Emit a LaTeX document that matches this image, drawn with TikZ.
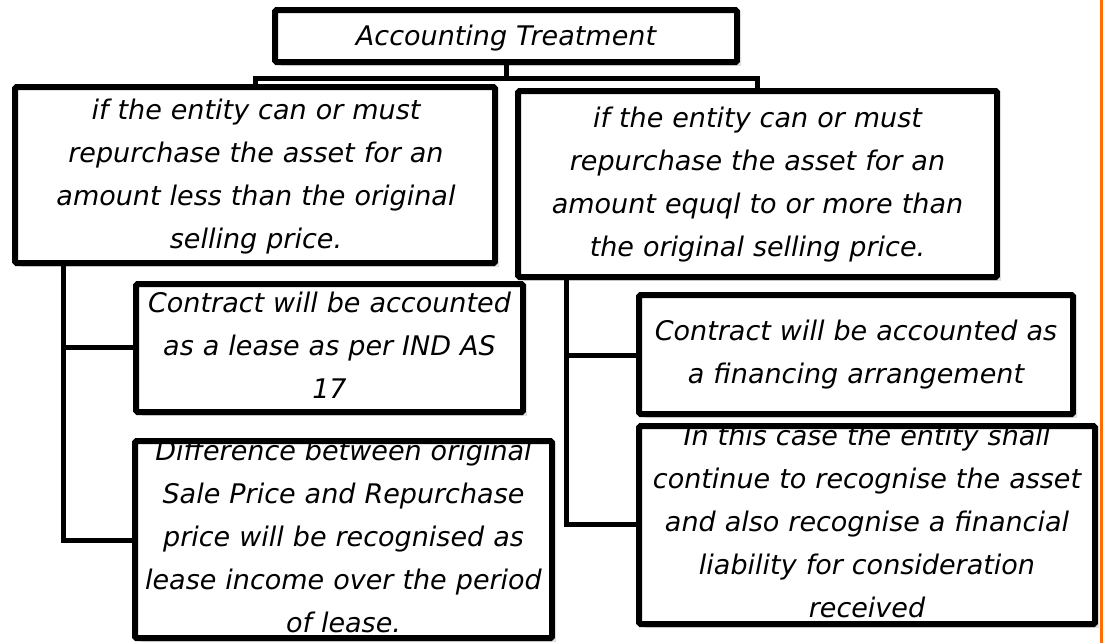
\documentclass[tikz,border=0pt]{standalone}
\usepackage{fontspec}
\setmainfont{DejaVu Sans}
\newcommand{\widespaces}{\spaceskip=0.5em\relax}
\tikzset{
  boxfill/.style={fill=white, draw=none, inner sep=0pt, outer sep=0pt},
  border/.style={draw=black, line width=6pt, rounded corners=1.5pt},
  shade/.style={fill=black!12, draw=none},
  txt/.style={align=center, text width=600pt, inner sep=0pt, anchor=base,
              font=\itshape\fontsize{27}{43}\selectfont\widespaces},
  conn/.style={draw=black, line width=5pt},
  edgeline/.style={draw=orange!85!red, line width=3pt}
}
\begin{document}
\begin{tikzpicture}[x=1pt,y=-1pt]
\useasboundingbox (0,0) rectangle (1103,643);
\fill[white] (0,0) rectangle (1103,643);
\draw[edgeline] (1101.5,0) -- (1101.5,643);

% boxes (fill)
\node[boxfill, minimum width=462pt, minimum height=52pt] (T) at (506,36) {};
\node[boxfill, minimum width=480pt, minimum height=176pt] (L1) at (255,175) {};
\node[boxfill, minimum width=479pt, minimum height=186pt] (R1) at (757.5,184) {};
\node[boxfill, minimum width=387pt, minimum height=128pt] (L2) at (329.5,348) {};
\node[boxfill, minimum width=417pt, minimum height=197pt] (L3) at (343.5,539.5) {};
\node[boxfill, minimum width=434pt, minimum height=119pt] (R2) at (856,354.5) {};
\node[boxfill, minimum width=456pt, minimum height=198pt] (R3) at (867,525) {};

% soft shadows
\begin{scope}[on background layer/.style={}]
\foreach \b in {T,L1,R1,L2,L3,R2,R3}{
  \fill[shade] ([xshift=4pt,yshift=-4pt]\b.north east) rectangle ([xshift=4pt,yshift=-4pt]\b.south east);
  \fill[shade] ([xshift=6pt]\b.south west) rectangle ([xshift=4pt,yshift=-4pt]\b.south east);
}
\end{scope}

% connectors
\coordinate (j) at (506,78);
\draw[conn] (T.south) -- (j) -| (L1.north);
\draw[conn] (j) -| (R1.north);
\coordinate (lt) at (63,263);
\draw[conn] (lt) |- (L2.west |- 0,347);
\draw[conn] (lt) |- (L3.west |- 0,540);
\coordinate (rt) at (566,277);
\draw[conn] (rt) |- (R2.west |- 0,355);
\draw[conn] (rt) |- (R3.west |- 0,524);

% texts
\node[txt] (tT) at (506,45) {Accounting Treatment};
\node[txt] (tL1) at (256,119) {if the entity can or must\\repurchase the asset for an\\amount less than the original\\selling price.};
\node[txt] (tR1) at (757.5,127) {if the entity can or must\\repurchase the asset for an\\amount equql to or more than\\the original selling price.};
\node[txt] (tL2) at (329.5,312) {Contract will be accounted\\as a lease as per IND AS\\17};
\node[txt] (tL3) at (343.5,460) {Difference between original\\Sale Price and Repurchase\\price will be recognised as\\lease income over the period\\of lease.};
\node[txt] (tR2) at (856,340) {Contract will be accounted as\\a financing arrangement};
\node[txt] (tR3) at (867,445) {In this case the entity shall\\continue to recognise the asset\\and also recognise a financial\\liability for consideration\\received};

% borders
\foreach \b in {T,L1,R1,L2,L3,R2,R3}{
  \draw[border] (\b.north west) rectangle (\b.south east);
}
\end{tikzpicture}
\end{document}
